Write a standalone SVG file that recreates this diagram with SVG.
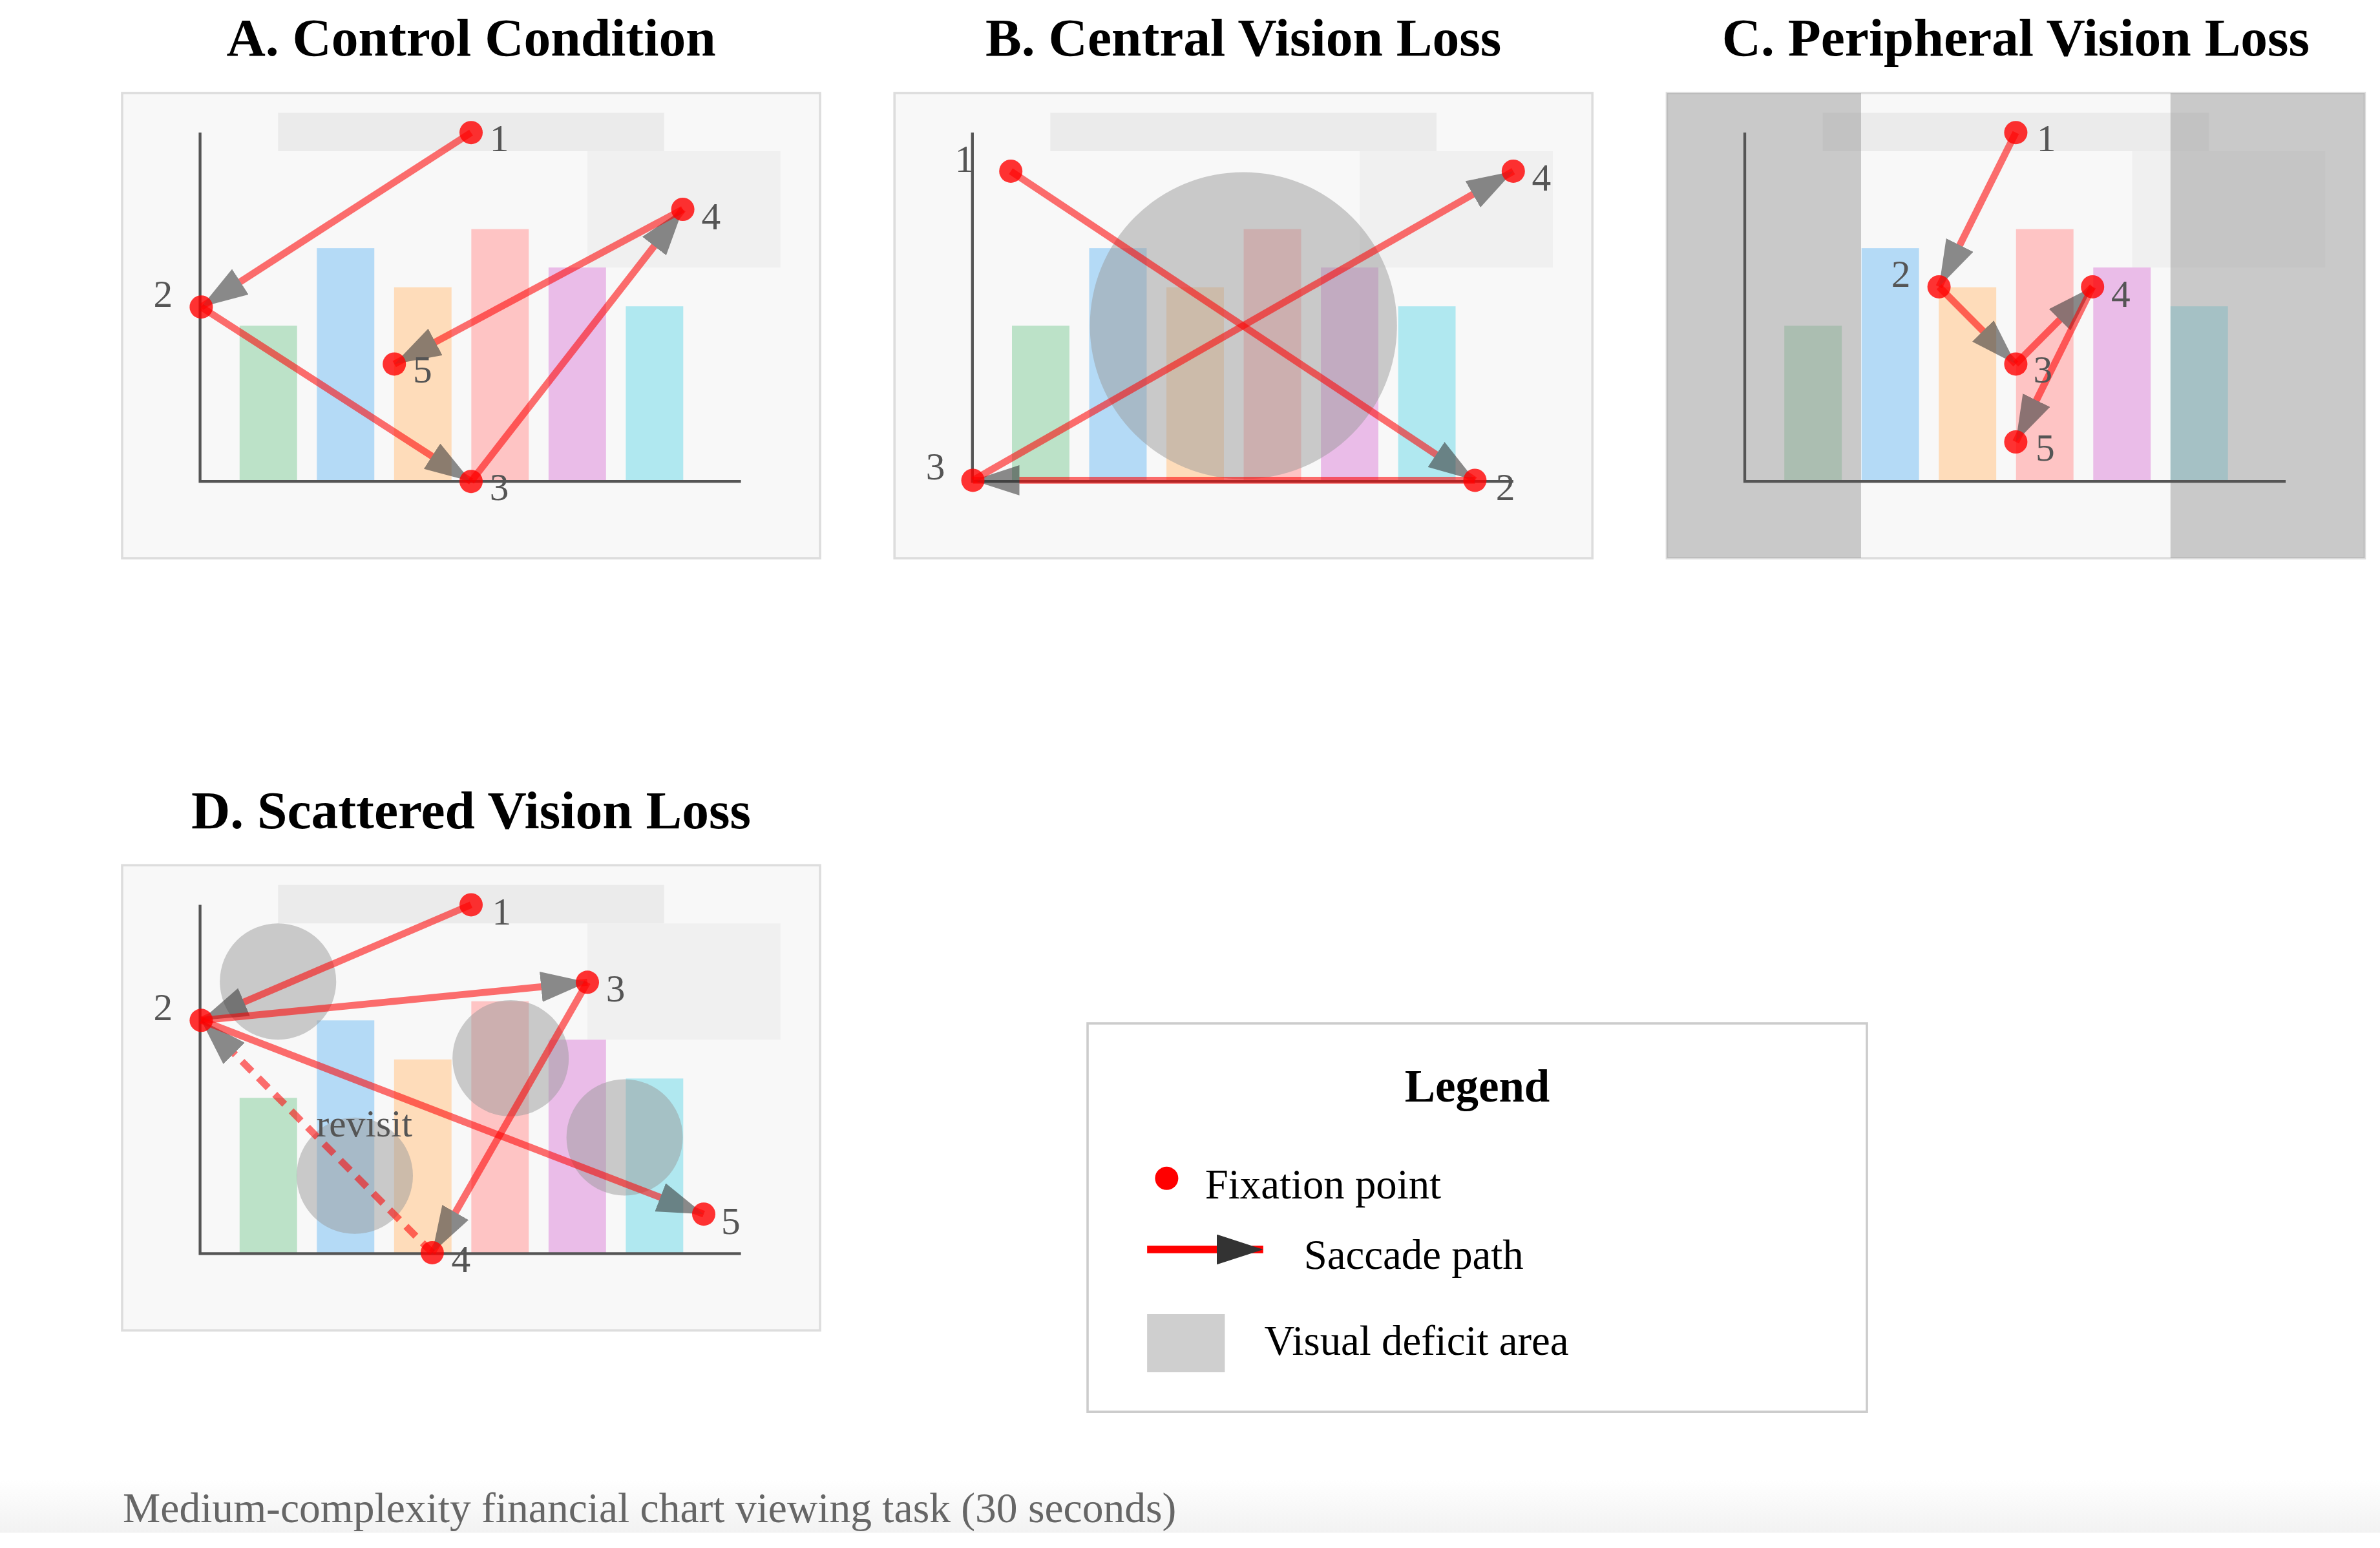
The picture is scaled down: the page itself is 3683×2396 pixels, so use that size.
<svg xmlns="http://www.w3.org/2000/svg" width="3683" height="2396" viewBox="0 0 3683 2396">
<style>
.ttl{font-family:"Liberation Serif","Times New Roman",serif;font-weight:bold;font-size:23.2px;fill:#000;text-anchor:middle}
.bg{fill:#f8f8f8;stroke:#ddd;stroke-width:1}
.tbar{fill:#ebebeb}
.box{fill:#f0f0f0}
.axis{fill:none;stroke:#555;stroke-width:1.2}
.def{fill:#999;fill-opacity:.5}
.sac{stroke:#f00;stroke-width:3;fill:none;opacity:.56;marker-end:url(#ah)}
.dash{stroke-dasharray:6 4}
.fx{fill:#f00;fill-opacity:.8}
.lbl{font-family:"Liberation Serif","Times New Roman",serif;font-size:16.5px;fill:#555}
.lg{font-family:"Liberation Serif","Times New Roman",serif;font-size:18px;fill:#000}
.b1{fill:#bce2c8}.b2{fill:#b4daf6}.b3{fill:#fedcba}.b4{fill:#fec4c4}.b5{fill:#eabce8}.b6{fill:#b0e8f0}
</style>
<defs>
<marker id="ah" markerUnits="userSpaceOnUse" markerWidth="20" markerHeight="13" viewBox="0 0 20 13" refX="20" refY="6.5" orient="auto"><path d="M0,0L20,6.5L0,13z" fill="#333"/></marker>
<linearGradient id="foot" x1="0" y1="0" x2="0" y2="1"><stop offset="0" stop-color="#fff"/><stop offset="1" stop-color="#f2f2f2"/></linearGradient>
<g id="chart">
<rect class="bg" x="0" y="0" width="300" height="200"/>
<rect class="tbar" x="67" y="8.5" width="166" height="16.5"/>
<rect class="box" x="200" y="25" width="83" height="50"/>
<rect class="b1" x="50.5" y="100" width="24.7" height="67"/>
<rect class="b2" x="83.7" y="66.7" width="24.7" height="100.3"/>
<rect class="b3" x="116.9" y="83.5" width="24.7" height="83.5"/>
<rect class="b4" x="150.1" y="58.5" width="24.7" height="108.5"/>
<rect class="b5" x="183.3" y="75" width="24.7" height="92"/>
<rect class="b6" x="216.5" y="91.7" width="24.7" height="75.3"/>
</g>
</defs>
<rect width="3683" height="2396" fill="#fff"/>
<g transform="translate(9,0) scale(3.6)">
<rect x="-2.5" y="636" width="1025" height="23" fill="url(#foot)"/>

<g id="panel-a">
<text class="ttl" x="200" y="24">A. Control Condition</text>
<g transform="translate(50,40)">
<use href="#chart"/>
<path class="axis" d="M33.5,17V167H266"/>
<g id="a-saccades">
<line class="sac" x1="150" y1="17" x2="34" y2="92"/>
<line class="sac" x1="34" y1="92" x2="150" y2="167"/>
<line class="sac" x1="150" y1="167" x2="241" y2="50"/>
<line class="sac" x1="241" y1="50" x2="117" y2="116.5"/>
</g>
<g id="a-fix1"><circle class="fx" cx="150" cy="17" r="5"/><text class="lbl" x="158" y="25">1</text></g>
<g id="a-fix2"><circle class="fx" cx="34" cy="92" r="5"/><text class="lbl" x="13.5" y="92">2</text></g>
<g id="a-fix3"><circle class="fx" cx="150" cy="167" r="5"/><text class="lbl" x="158" y="175">3</text></g>
<g id="a-fix4"><circle class="fx" cx="241" cy="50" r="5"/><text class="lbl" x="249" y="58.5">4</text></g>
<g id="a-fix5"><circle class="fx" cx="117" cy="116.5" r="5"/><text class="lbl" x="125" y="124.5">5</text></g>
</g>
</g>

<g id="panel-b">
<text class="ttl" x="532" y="24">B. Central Vision Loss</text>
<g transform="translate(382,40)">
<use href="#chart"/>
<circle class="def" cx="150" cy="100" r="66"/>
<path class="axis" d="M33.5,17V167H266"/>
<g id="b-saccades">
<line class="sac" x1="50" y1="33.6" x2="249.5" y2="166.5"/>
<line class="sac" x1="249.5" y1="166.5" x2="33.7" y2="166.5"/>
<line class="sac" x1="33.7" y1="166.5" x2="266" y2="33.6"/>
</g>
<g id="b-fix1"><circle class="fx" cx="50" cy="33.6" r="5"/><text class="lbl" x="26" y="34">1</text></g>
<g id="b-fix2"><circle class="fx" cx="249.5" cy="166.5" r="5"/><text class="lbl" x="258.5" y="175">2</text></g>
<g id="b-fix3"><circle class="fx" cx="33.7" cy="166.5" r="5"/><text class="lbl" x="13.5" y="166">3</text></g>
<g id="b-fix4"><circle class="fx" cx="266" cy="33.6" r="5"/><text class="lbl" x="274" y="42">4</text></g>
</g>
</g>

<g id="panel-c">
<text class="ttl" x="864" y="24">C. Peripheral Vision Loss</text>
<g transform="translate(714,40)">
<use href="#chart"/>
<rect class="def" x="0" y="0" width="83.5" height="200"/>
<rect class="def" x="216.5" y="0" width="83.5" height="200"/>
<path class="axis" d="M33.5,17V167H266"/>
<g id="c-saccades">
<line class="sac" x1="150" y1="17" x2="117" y2="83.3"/>
<line class="sac" x1="117" y1="83.3" x2="150" y2="116.5"/>
<line class="sac" x1="150" y1="116.5" x2="183" y2="83.3"/>
<line class="sac" x1="183" y1="83.3" x2="150" y2="150"/>
</g>
<g id="c-fix1"><circle class="fx" cx="150" cy="17" r="5"/><text class="lbl" x="159" y="25">1</text></g>
<g id="c-fix2"><circle class="fx" cx="117" cy="83.3" r="5"/><text class="lbl" x="96.5" y="83.3">2</text></g>
<g id="c-fix3"><circle class="fx" cx="150" cy="116.5" r="5"/><text class="lbl" x="157.5" y="124.5">3</text></g>
<g id="c-fix4"><circle class="fx" cx="183" cy="83.3" r="5"/><text class="lbl" x="191" y="92">4</text></g>
<g id="c-fix5"><circle class="fx" cx="150" cy="150" r="5"/><text class="lbl" x="158.5" y="158">5</text></g>
</g>
</g>

<g id="panel-d">
<text class="ttl" x="200" y="356">D. Scattered Vision Loss</text>
<g transform="translate(50,372)">
<use href="#chart"/>
<circle class="def" cx="67" cy="50" r="25"/>
<circle class="def" cx="100" cy="133.5" r="25"/>
<circle class="def" cx="167" cy="83" r="25"/>
<circle class="def" cx="216" cy="117" r="25"/>
<path class="axis" d="M33.5,17V167H266"/>
<g id="d-saccades">
<line class="sac" x1="150" y1="17" x2="34" y2="66.7"/>
<line class="sac" x1="34" y1="66.7" x2="200" y2="50.3"/>
<line class="sac" x1="200" y1="50.3" x2="133.3" y2="166.6"/>
<line class="sac dash" x1="133.3" y1="166.6" x2="34" y2="66.7"/>
<line class="sac" x1="34" y1="66.7" x2="250" y2="150"/>
<text class="lbl" x="83.5" y="116.7">revisit</text>
</g>
<g id="d-fix1"><circle class="fx" cx="150" cy="17" r="5"/><text class="lbl" x="159" y="25.5">1</text></g>
<g id="d-fix2"><circle class="fx" cx="34" cy="66.7" r="5"/><text class="lbl" x="13.5" y="66.7">2</text></g>
<g id="d-fix3"><circle class="fx" cx="200" cy="50.3" r="5"/><text class="lbl" x="208" y="58.5">3</text></g>
<g id="d-fix4"><circle class="fx" cx="133.3" cy="166.6" r="5"/><text class="lbl" x="141.5" y="175">4</text></g>
<g id="d-fix5"><circle class="fx" cx="250" cy="150" r="5"/><text class="lbl" x="257.5" y="158.5">5</text></g>
</g>
</g>

<g id="legend">
<rect x="465" y="440" width="335" height="167" fill="#fff" stroke="#ccc" stroke-width="1"/>
<text class="ttl" x="632.5" y="473.5" style="font-size:19.7px">Legend</text>
<circle cx="499" cy="506.6" r="5" fill="#f00"/>
<text class="lg" x="515.5" y="515.4">Fixation point</text>
<line x1="490.6" y1="537.2" x2="540.5" y2="537.2" stroke="#f00" stroke-width="3.3" marker-end="url(#ah)"/>
<text class="lg" x="558" y="545.6">Saccade path</text>
<rect x="490.6" y="565" width="33.4" height="25" fill="#cfcfcf"/>
<text class="lg" x="541" y="582.5">Visual deficit area</text>
</g>

<text id="caption" x="50.3" y="654.5" style="font-family:'Liberation Serif','Times New Roman',serif;font-size:18.2px;fill:#666">Medium-complexity financial chart viewing task (30 seconds)</text>
</g>
</svg>
